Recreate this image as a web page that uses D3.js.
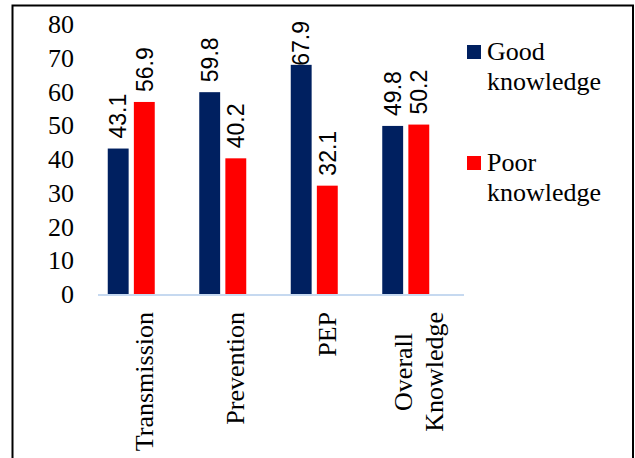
<!DOCTYPE html>
<html>
<head>
<meta charset="utf-8">
<script src="https://cdn.jsdelivr.net/npm/d3@7"></script>
<style>
  body { margin: 0; background: #fff; }
  text { font-family: "Liberation Serif", "Times New Roman", serif; fill: #000; }
  text.val { font-family: "Liberation Sans", Arial, sans-serif; }
</style>
</head>
<body>
<div id="chart"></div>
<script>
// data
var categories = ["Transmission", "Prevention", "PEP", "Overall\nKnowledge"];
var series = ["Good knowledge", "Poor knowledge"];
var good = [43.1, 59.8, 67.9, 49.8];
var poor = [56.9, 40.2, 32.1, 50.2];
var yTicks = [0, 10, 20, 30, 40, 50, 60, 70, 80];
var colors = ["#002060", "#ff0000"];

var W = 635, H = 458;

var svg = d3.select("#chart")
  .append("svg")
    .attr("width", W)
    .attr("height", H);

// outer frame (runs off the bottom)
svg.append("rect")
  .attr("x", 12.5).attr("y", 5.5)
  .attr("width", 620.5).attr("height", 500)
  .attr("fill", "none")
  .attr("stroke", "#000")
  .attr("stroke-width", 2);

var x = d3.scaleBand()
  .domain(categories)
  .range([98, 464]);

// bars sit left of the band centre, like the source
var x1 = d3.scaleBand()
  .domain(series)
  .range([-36, 11])
  .paddingInner(0.2);

var y = d3.scaleLinear()
  .domain([0, 80])
  .range([294, 24]);

// y tick labels, no axis line
svg.append("g")
  .selectAll("text")
  .data(yTicks)
  .enter()
  .append("text")
    .attr("x", 74)
    .attr("y", d => y(d))
    .attr("dy", "0.35em")
    .attr("text-anchor", "end")
    .style("font-size", "26px")
    .text(d => d);

var rows = categories.map((c, i) => ({cat: c, vals: [good[i], poor[i]]}));

var groups = svg.append("g")
  .selectAll("g")
  .data(rows)
  .enter()
  .append("g")
    .attr("transform", d => "translate(" + (x(d.cat) + x.bandwidth() / 2) + ",0)");

groups.selectAll("rect")
  .data(d => d.vals.map((v, j) => ({s: series[j], v: v, j: j})))
  .enter()
  .append("rect")
    .attr("x", d => x1(d.s))
    .attr("y", d => y(d.v))
    .attr("width", x1.bandwidth())
    .attr("height", d => y(0) - y(d.v))
    .attr("fill", d => colors[d.j]);

// value labels, rotated; kept inside the plot top
groups.selectAll("text.val")
  .data(d => d.vals.map((v, j) => ({s: series[j], v: v, j: j})))
  .enter()
  .append("text")
    .attr("class", "val")
    .style("font-size", "23px")
    .text(d => d.v.toFixed(1))
    .each(function(d) {
      var len = this.getComputedTextLength();
      var endY = Math.max(y(d.v) - 10, 21 + len);
      var cx = x1(d.s) + x1.bandwidth() / 2;
      d3.select(this)
        .attr("transform", "translate(" + cx + "," + endY + ") rotate(-90)")
        .attr("dy", "0.36em");
    });

// x axis line
svg.append("line")
  .attr("x1", 98).attr("x2", 464)
  .attr("y1", y(0) + 1).attr("y2", y(0) + 1)
  .attr("stroke", "#c6d9f0")
  .attr("stroke-width", 2);

// category labels
var labTop = 312;
svg.append("g")
  .selectAll("text")
  .data(categories)
  .enter()
  .append("text")
    .style("font-size", "26px")
    .each(function(c) {
      var lines = c.split("\n");
      var t = d3.select(this);
      var cx = x(c) + x.bandwidth() / 2;
      if (lines.length === 1) {
        t.attr("transform", "translate(" + cx + "," + labTop + ") rotate(-90)")
          .attr("text-anchor", "end")
          .attr("dy", "0.35em")
          .text(c);
      } else {
        var lh = 31;
        lines.forEach(function(l, k) {
          t.append("tspan")
            .attr("x", 0)
            .attr("y", (k - (lines.length - 1) / 2) * lh)
            .attr("dy", "0.35em")
            .text(l);
        });
        var len = d3.max(t.selectAll("tspan").nodes(), n => n.getComputedTextLength());
        t.attr("text-anchor", "middle")
          .attr("transform", "translate(" + cx + "," + (labTop + len / 2) + ") rotate(-90)");
      }
    });

// legend
var legendTop = [45, 156];
var legend = svg.append("g")
  .selectAll("g")
  .data(series)
  .enter()
  .append("g")
    .attr("transform", (d, i) => "translate(467," + legendTop[i] + ")");

legend.append("rect")
  .attr("width", 14).attr("height", 14)
  .attr("fill", (d, i) => colors[i]);

legend.append("text")
  .style("font-size", "26px")
  .each(function(d) {
    var words = d.split(" ");
    var t = d3.select(this);
    words.forEach(function(w, k) {
      t.append("tspan")
        .attr("x", 20)
        .attr("y", 15 + k * 30)
        .text(w);
    });
  });
</script>
</body>
</html>
